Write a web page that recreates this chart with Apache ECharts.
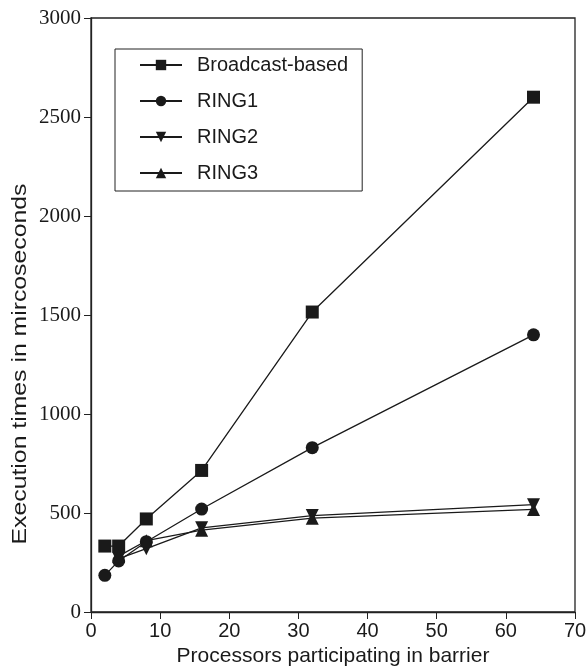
<!DOCTYPE html>
<html>
<head>
<meta charset="utf-8">
<script src="https://cdn.jsdelivr.net/npm/echarts@6/dist/echarts.min.js"></script>
<style>
  html, body { margin: 0; padding: 0; background: #fff; }
  #chart { width: 587px; height: 668px; }
</style>
</head>
<body>
<div id="chart"></div>
<script>
// processors on the x axis
var procs = [2, 4, 8, 16, 32, 64];
// execution times (microseconds)
var broadcast = [333, 333, 470, 715, 1515, 2600];
var ring1 = [185, 258, 355, 520, 830, 1400];
var ring2 = [null, 270, 320, 425, 487, 542];
var ring3 = [null, 282, 360, 413, 474, 518];

var seriesNames = ['Broadcast-based', 'RING1', 'RING2', 'RING3'];
var xTicks = [0, 10, 20, 30, 40, 50, 60, 70];
var yTicks = [0, 500, 1000, 1500, 2000, 2500, 3000];
var yTitle = 'Execution times in mircoseconds';

function pairs(vals) {
    var out = [];
    for (var i = 0; i < procs.length; i++) {
        if (vals[i] != null) out.push([procs[i], vals[i]]);
    }
    return out;
}

function lineSeries(name, vals, symbol, rot) {
    return {
        name: name,
        type: 'line',
        data: pairs(vals),
        symbol: symbol,
        symbolSize: 13,
        symbolRotate: rot || 0,
        showAllSymbol: true,
        lineStyle: { color: '#1a1a1a', width: 1.3 },
        itemStyle: { color: '#1a1a1a' },
        emphasis: { disabled: true },
        animation: false
    };
}

var chart = echarts.init(document.getElementById('chart'));
chart.setOption({
    animation: false,
    grid: {
        left: 91, right: 12, top: 18, bottom: 56,
        outerBoundsMode: 'none',
        show: true, borderColor: '#222', borderWidth: 1.3
    },
    legend: {
        data: seriesNames,
        orient: 'vertical',
        left: 115,
        top: 49,
        backgroundColor: '#fff',
        borderColor: '#222',
        borderWidth: 1,
        borderRadius: 0,
        padding: [6, 14, 8, 24],
        itemWidth: 42,
        itemHeight: 13,
        itemGap: 16,
        textStyle: { fontFamily: 'Liberation Sans', fontSize: 20, color: '#1a1a1a', padding: [0, 0, 0, 10] }
    },
    // y title drawn as text so it can be stretched like the original figure
    graphic: [{
        type: 'text',
        x: 20,
        y: 364,
        rotation: Math.PI / 2,
        scaleX: 1.18,
        silent: true,
        style: {
            text: yTitle,
            font: '21px "Liberation Sans"',
            fill: '#1a1a1a',
            align: 'center',
            verticalAlign: 'middle'
        }
    }],
    xAxis: {
        type: 'value',
        min: xTicks[0], max: xTicks[xTicks.length - 1], interval: 10,
        name: 'Processors participating in barrier',
        nameLocation: 'middle',
        nameGap: 33,
        nameTextStyle: { fontFamily: 'Liberation Sans', fontSize: 21, color: '#1a1a1a' },
        axisLine: { lineStyle: { color: '#222', width: 1.3 } },
        axisTick: { length: 7, lineStyle: { color: '#222' } },
        axisLabel: { fontFamily: 'Liberation Sans', fontSize: 20, color: '#1a1a1a', margin: 9 },
        splitLine: { show: false }
    },
    yAxis: {
        type: 'value',
        min: yTicks[0], max: yTicks[yTicks.length - 1], interval: 500,
        axisLine: { lineStyle: { color: '#222', width: 1.3 } },
        axisTick: { length: 7, lineStyle: { color: '#222' } },
        axisLabel: {
            fontFamily: 'Liberation Serif', fontSize: 21, color: '#1a1a1a', margin: 10,
            formatter: function (v) { return String(v); }
        },
        splitLine: { show: false }
    },
    series: [
        lineSeries(seriesNames[0], broadcast, 'rect'),
        lineSeries(seriesNames[1], ring1, 'circle'),
        lineSeries(seriesNames[2], ring2, 'triangle', 180),
        lineSeries(seriesNames[3], ring3, 'triangle')
    ]
});
</script>
</body>
</html>
